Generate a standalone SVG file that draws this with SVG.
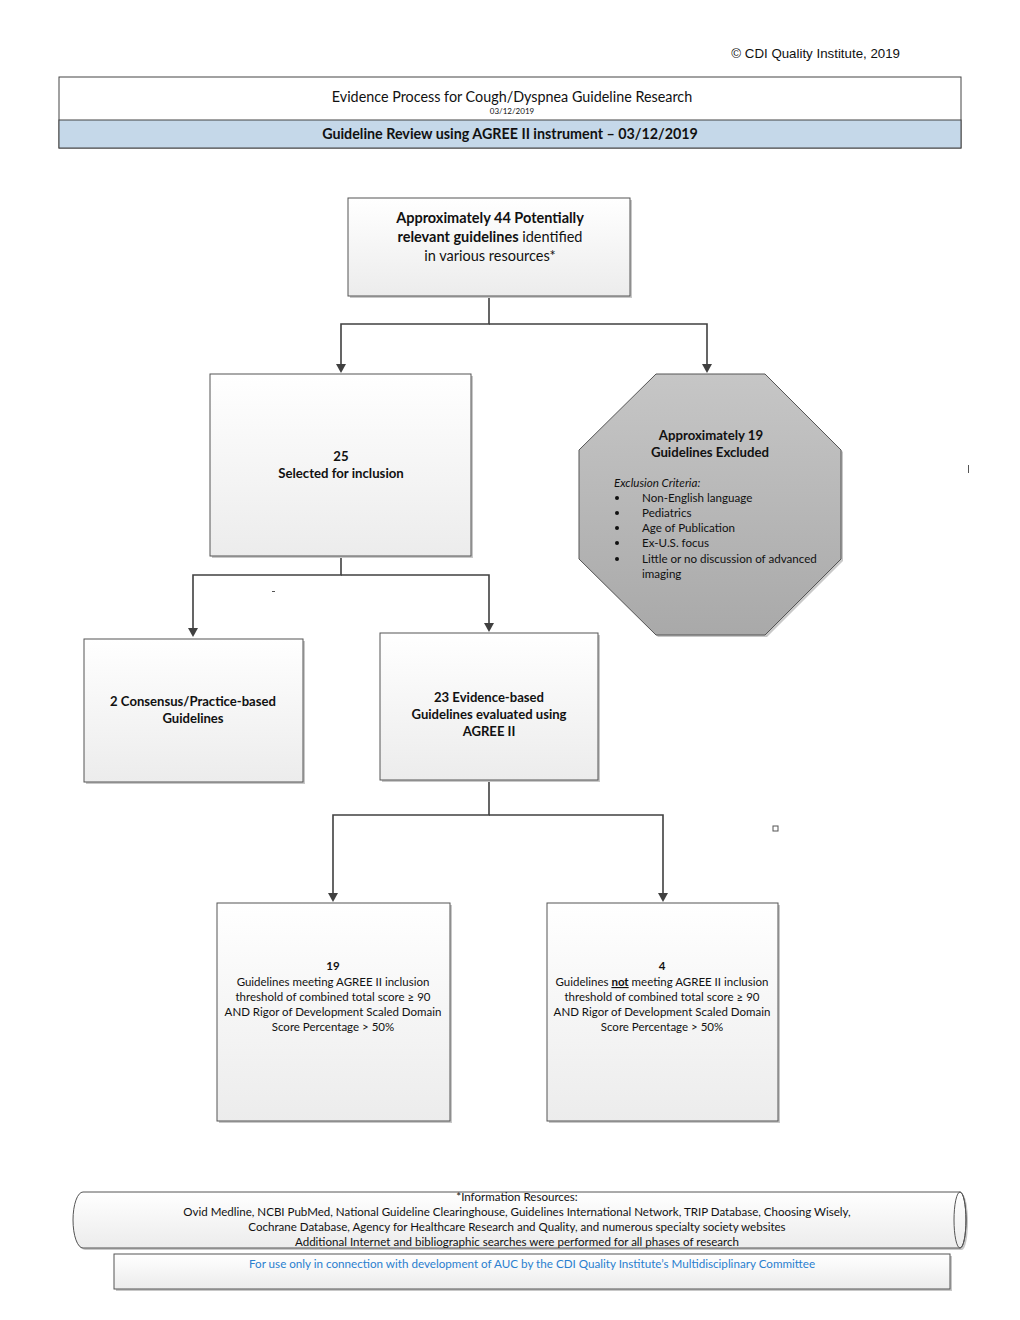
<svg xmlns="http://www.w3.org/2000/svg" width="1020" height="1320" viewBox="0 0 1020 1320">
<style>
.t{font-family:Lato,"Open Sans","DejaVu Sans",sans-serif;fill:#111;}
.c{text-anchor:middle;}
.b{font-weight:bold;}
.box{fill:url(#g1);stroke:#555;stroke-width:1;}
.sh{fill:#c8c8c8;}
.ln{fill:none;stroke:#404040;stroke-width:1.6;}
</style>
<defs>
<linearGradient id="g1" x1="0" y1="0" x2="0" y2="1"><stop offset="0" stop-color="#ffffff"/><stop offset="1" stop-color="#ececec"/></linearGradient>
<linearGradient id="g2" x1="0" y1="0" x2="0" y2="1"><stop offset="0" stop-color="#c6c6c6"/><stop offset="1" stop-color="#a9a9a9"/></linearGradient>
</defs>
<rect width="1020" height="1320" fill="#ffffff"/>
<text x="900" y="58" font-family="'Liberation Sans',Arial,sans-serif" font-size="13.3" text-anchor="end" fill="#111">© CDI Quality Institute, 2019</text>
<g id="header">
<rect x="59" y="77" width="902" height="71" fill="#fff" stroke="#444" stroke-width="1"/>
<rect x="59" y="120" width="902" height="28" fill="#c5d8e9" stroke="#444" stroke-width="1"/>
<text class="t c" x="512" y="102" font-size="14.35">Evidence Process for Cough/Dyspnea Guideline Research</text>
<text class="t c" x="512" y="114" font-size="8">03/12/2019</text>
<text class="t c b" x="510" y="139" font-size="14.3">Guideline Review using AGREE II instrument – 03/12/2019</text>
</g>
<g id="connectors">
<path class="ln" d="M489,296 V324 H341 V364"/>
<path class="ln" d="M489,324 H707 V364"/>
<path class="ln" d="M341,556 V575 H193 V628"/>
<path class="ln" d="M341,575 H489 V623"/>
<path class="ln" d="M489,780 V815 H333 V893"/>
<path class="ln" d="M489,815 H663 V893"/>
<path d="M336,364 L346,364 L341,373 Z" fill="#404040"/>
<path d="M702,364 L712,364 L707,373 Z" fill="#404040"/>
<path d="M188,628 L198,628 L193,637 Z" fill="#404040"/>
<path d="M484,623 L494,623 L489,632 Z" fill="#404040"/>
<path d="M328,893 L338,893 L333,902 Z" fill="#404040"/>
<path d="M658,893 L668,893 L663,902 Z" fill="#404040"/>
</g>
<g id="n1">
<rect class="sh" x="350" y="200" width="282" height="98"/>
<rect class="box" x="348" y="198" width="282" height="98"/>
<text class="t c b" x="490" y="223" font-size="14.5">Approximately 44 Potentially</text>
<text class="t c" x="490" y="242" font-size="14.5"><tspan font-weight="bold">relevant guidelines</tspan> identified</text>
<text class="t c" x="490" y="261" font-size="14.5">in various resources*</text>
</g>
<g id="n2">
<rect class="sh" x="212" y="376" width="261" height="182"/>
<rect class="box" x="210" y="374" width="261" height="182"/>
<text class="t c b" x="341" y="461" font-size="13.2">25</text>
<text class="t c b" x="341" y="478" font-size="13.2">Selected for inclusion</text>
</g>
<g id="n_excluded">
<polygon points="658,376 767,376 843,452 843,561 767,637 658,637 581,561 581,452" fill="#c8c8c8"/>
<polygon points="656,374 765,374 841,450 841,559 765,635 656,635 579,559 579,450" fill="url(#g2)" stroke="#555" stroke-width="1"/>
<text class="t c b" x="711" y="440" font-size="13.2">Approximately 19</text>
<text class="t c b" x="710" y="457" font-size="13.2">Guidelines Excluded</text>
<text class="t" x="614" y="487" font-size="11.6" font-style="italic">Exclusion Criteria:</text>
<circle cx="617" cy="498" r="2" fill="#111"/><text class="t" x="642" y="502" font-size="11.6">Non-English language</text>
<circle cx="617" cy="513" r="2" fill="#111"/><text class="t" x="642" y="517" font-size="11.6">Pediatrics</text>
<circle cx="617" cy="528" r="2" fill="#111"/><text class="t" x="642" y="532" font-size="11.6">Age of Publication</text>
<circle cx="617" cy="543" r="2" fill="#111"/><text class="t" x="642" y="547" font-size="11.6">Ex-U.S. focus</text>
<circle cx="617" cy="559" r="2" fill="#111"/><text class="t" x="642" y="563" font-size="11.6">Little or no discussion of advanced</text>
<text class="t" x="642" y="578" font-size="11.6">imaging</text>
</g>
<g id="n3">
<rect class="sh" x="86" y="641" width="219" height="143"/>
<rect class="box" x="84" y="639" width="219" height="143"/>
<text class="t c b" x="193" y="706" font-size="13.1">2 Consensus/Practice-based</text>
<text class="t c b" x="193" y="723" font-size="13.1">Guidelines</text>
</g>
<g id="n4">
<rect class="sh" x="382" y="635" width="218" height="147"/>
<rect class="box" x="380" y="633" width="218" height="147"/>
<text class="t c b" x="489" y="702" font-size="13.1">23 Evidence-based</text>
<text class="t c b" x="489" y="719" font-size="13.1">Guidelines evaluated using</text>
<text class="t c b" x="489" y="736" font-size="13.1">AGREE II</text>
</g>
<g id="n5">
<rect class="sh" x="219" y="905" width="233" height="218"/>
<rect class="box" x="217" y="903" width="233" height="218"/>
<text class="t c b" x="333" y="970" font-size="11.5">19</text>
<text class="t c" x="333" y="986" font-size="11.5">Guidelines meeting AGREE II inclusion</text>
<text class="t c" x="333" y="1001" font-size="11.5">threshold of combined total score ≥ 90</text>
<text class="t c" x="333" y="1016" font-size="11.5">AND Rigor of Development Scaled Domain</text>
<text class="t c" x="333" y="1031" font-size="11.5">Score Percentage &gt; 50%</text>
</g>
<g id="n6">
<rect class="sh" x="549" y="905" width="231" height="218"/>
<rect class="box" x="547" y="903" width="231" height="218"/>
<text class="t c b" x="662" y="970" font-size="11.5">4</text>
<text class="t c" x="662" y="986" font-size="11.5">Guidelines <tspan font-weight="bold" text-decoration="underline">not</tspan> meeting AGREE II inclusion</text>
<text class="t c" x="662" y="1001" font-size="11.5">threshold of combined total score ≥ 90</text>
<text class="t c" x="662" y="1016" font-size="11.5">AND Rigor of Development Scaled Domain</text>
<text class="t c" x="662" y="1031" font-size="11.5">Score Percentage &gt; 50%</text>
</g>
<g id="marks">
<rect x="272" y="591" width="3" height="1" fill="#555"/>
<rect x="773" y="826" width="5" height="5" fill="#fff" stroke="#555" stroke-width="1"/>
<rect x="968" y="465" width="1" height="8" fill="#555"/>
</g>
<g id="footer">
<path d="M85,1194 H962 A6,28 0 0 1 962,1250 H85 A12,28 0 0 1 85,1194 Z" fill="#c8c8c8"/>
<path d="M83,1192 H960 A6,28 0 0 1 960,1248 H83 A10,28 0 0 1 83,1192 Z" fill="url(#g1)" stroke="#555" stroke-width="1"/>
<ellipse cx="960" cy="1220" rx="6" ry="28" fill="none" stroke="#555" stroke-width="1"/>
<text class="t c" x="517" y="1201" font-size="11.55">*Information Resources:</text>
<text class="t c" x="517" y="1216" font-size="11.55">Ovid Medline, NCBI PubMed, National Guideline Clearinghouse, Guidelines International Network, TRIP Database, Choosing Wisely,</text>
<text class="t c" x="517" y="1231" font-size="11.55">Cochrane Database, Agency for Healthcare Research and Quality, and numerous specialty society websites</text>
<text class="t c" x="517" y="1246" font-size="11.55">Additional Internet and bibliographic searches were performed for all phases of research</text>
</g>
<g id="notice">
<rect x="116" y="1256" width="836" height="35" fill="#c8c8c8"/>
<rect x="114" y="1254" width="836" height="35" fill="url(#g1)" stroke="#555" stroke-width="1"/>
<text class="t c" x="532" y="1268" font-size="11.65" style="fill:#2a7fcf">For  use only in connection with development of AUC by the CDI Quality Institute’s Multidisciplinary Committee</text>
</g>
</svg>
